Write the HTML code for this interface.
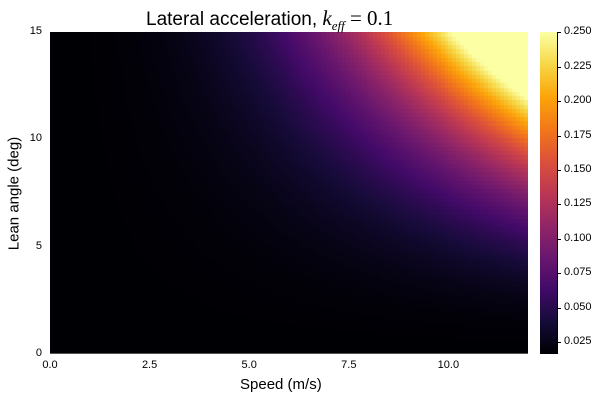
<!DOCTYPE html><html><head><style>
body{margin:0;background:#fff;width:600px;height:400px;position:relative;overflow:hidden;font-family:"Liberation Sans","DejaVu Sans",sans-serif;color:#000}
.t{position:absolute;font-size:11px;white-space:nowrap}
canvas{position:absolute}
</style></head><body>
<canvas id="c" width="478" height="322" style="left:50px;top:32px"></canvas>
<canvas id="cb" width="17" height="322" style="left:540px;top:32px"></canvas>
<div style="position:absolute;left:50px;top:353px;width:478px;height:1px;background:#555"></div>
<div class="t" style="left:146px;top:6px;font-size:19px">Lateral acceleration, <span style="font-family:'Liberation Serif',serif;font-style:italic;font-size:21px">k<sub style="font-size:13px">eff</sub></span><span style="font-family:'Liberation Serif',serif;font-size:21px"> = 0.1</span></div>
<div class="t" style="left:240px;top:376px;font-size:15px">Speed (m/s)</div>
<div class="t" style="left:-46px;top:185px;font-size:15px;transform:rotate(-90deg);width:120px;text-align:center">Lean angle (deg)</div>
<div id="ax"></div>
<script>
const stops=[[0,0,0,4],[.1,22,11,57],[.2,66,10,104],[.3,106,23,110],[.4,147,38,103],[.5,188,55,84],[.6,221,81,58],[.7,243,120,25],[.8,252,165,10],[.9,246,215,70],[1,252,255,164]];
function cm(t){t=Math.max(0,Math.min(1,t));for(let i=1;i<stops.length;i++){if(t<=stops[i][0]){const a=stops[i-1],b=stops[i],f=(t-a[0])/(b[0]-a[0]);return [0,1,2].map(k=>Math.round(a[k+1]+(b[k+1]-a[k+1])*f));}}return [252,255,164];}
const vmin=0.0163,vmax=0.25;
const c=document.getElementById('c').getContext('2d');
const NX=121,NY=76;
const P=1.45;
const cc=0.234/Math.pow(6000,P);
for(let i=0;i<NX;i++)for(let j=0;j<NY;j++){
 const v=i*0.1,th=j*0.2;
 const u=v*v*Math.pow(th,1.5);
 const a=0.0163+cc*Math.pow(u,P);
 const col=cm((a-vmin)/(vmax-vmin));
 c.fillStyle=`rgb(${col})`;
 const x0=Math.floor(i*478/NX),x1=Math.ceil((i+1)*478/NX);
 const y1=322-Math.floor(j*322/NY),y0=322-Math.ceil((j+1)*322/NY);
 c.fillRect(x0,y0,x1-x0,y1-y0);
}
const cb=document.getElementById('cb').getContext('2d');
for(let y=0;y<322;y++){const col=cm(1-y/321);cb.fillStyle=`rgb(${col})`;cb.fillRect(0,y,17,1);}
let h='';
['0.0','2.5','5.0','7.5','10.0'].forEach((s,k)=>{const x=50+k*99.6;h+=`<div class="t" style="left:${x-20}px;top:359px;width:40px;text-align:center">${s}</div>`;});
['0','5','10','15'].forEach((s,k)=>{const y=354-k*107.3;h+=`<div class="t" style="left:20px;top:${y-7}px;width:22px;text-align:right">${s}</div>`;});
for(let k=1;k<=10;k++){const v=k*0.025;const y=342-(v-0.025)/0.025*34.4;
h+=`<div style="position:absolute;left:557px;top:${y}px;width:4px;height:1px;background:#000"></div><div class="t" style="left:564px;top:${y-7}px">${v.toFixed(3)}</div>`;}
h+=`<div style="position:absolute;left:557px;top:32px;width:1px;height:322px;background:#000"></div>`;
document.getElementById('ax').innerHTML=h;
</script>
</body></html>
